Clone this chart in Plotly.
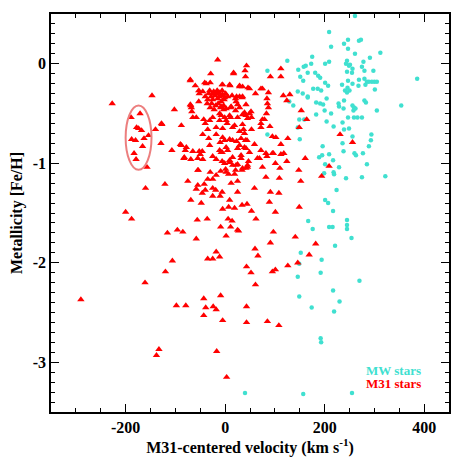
import plotly.graph_objects as go

# M31 stars (red triangles): velocity (km/s), [Fe/H]
m31_vel = [
    -227, -147, -102, -70, -15,
    -189, -171, -178, -174, -168, -188, -180, -163, -166, -183, -179, -154,
    -140, -127, -129, -157, -160, -121, -107, -88, -90, -82, -78, -200, -188, -116, -96, -85, -69,
    -29, 17, 41, -70, -38, -30, -6, 9, 29, 35, 46, -52, -45, -23, -18, -53, -36, -70, -67, 23,
    34, 25, 42, -3, 11, -11, -65, -58, -43, -31, -25, -11, -1, 11, 35, 45, -128, -40, -35, -18,
    4, 15, 29, 37, -45, -33, -18, -10, -1, 9, -11, -6, 5, 23, 29, 41, 42, -88, -80, -65, -52,
    -83, -55, -45, -25, -18, -6, 9, 25, 32, 45, -55, 15,
    -33, -28, -25, -20, -15, -12, -8, -5, -2, -27, -19, -14, -30, -22, -9, -16, -35, -40, -12,
    -24, -3, -31, -6, 1,
    -8, -1, 5, 14, 21, 29, 35, 22, -8, 2, 12, 21, 29, 39, 49, -8, 9, 25, 42, 2, 19, 35, -5,
    -5, 15, 32, 2, 25, 39, -8, 15, 32, -1, 9, 22, 35, 2, 19, 45,
    43, 40, 17, 112, 91, 112, -5, 10, 29, 49, 72, 75, 61, 87, 117, 130, 84, 124, 85, 153, 87,
    52, 83, 164, 75, 90, 72, 149, 53, 95, 102, 126, 231, 256, 59, 112, 82, 95, 69, 112, 161,
    101, 75, 110, 148, 209, 194, 82, 152, 109, 59, 91, 108, 89, 53, 101, 149, 62,
    -54, -30, -75, -55, -58, -42, -35, -25, -18, -9, 1, 7, 21, 34, 42, -40, -25, -19, -46, -6,
    -10, -25, 12, 25, 25, -69, -48, 9, 7, 19, 34, 44, -56, -36, 6, 14, -9, 11, 25, -58, 2,
    -18, -11, -35, -25, -106, -5,
    -41, -60, -53, -68, -31, -46, -50, -69,
    -120, -161, -290, -98, -79, -43, -9, -39, -24, -18, -43, -5, -133, -138, -17, 3,
    27, 97, 141, 91, 182, 60, 66, 169, 43, 52, 95, 101, 126, 146, 61, 43, 43, 85, 108,
    79, 72, 53, 39, 44, 49, 72, 84, 97, 118, 47, 65, 124,
]
m31_feh = [
    -0.40, -0.32, -0.46, -0.16, 0.04,
    -0.54, -0.50, -0.64, -0.65, -0.67, -0.76, -0.77, -0.75, -0.83, -0.90, -0.96, -0.72,
    -0.66, -0.61, -0.80, -1.04, -1.25, -1.21, -0.87, -0.62, -0.81, -0.94, -0.84, -1.49, -1.56, -1.70, -1.67, -1.69, -0.42,
    -0.10, -0.10, -0.13, -0.17, -0.20, -0.19, -0.21, -0.21, -0.23, -0.23, -0.24, -0.30, -0.28, -0.28, -0.30, -0.38, -0.40, -0.41, -0.48, -0.33,
    -0.34, -0.41, -0.41, -0.46, -0.44, -0.50, -0.54, -0.54, -0.56, -0.57, -0.54, -0.57, -0.54, -0.54, -0.51, -0.55, -0.60, -0.60, -0.66, -0.64,
    -0.60, -0.64, -0.68, -0.66, -0.71, -0.75, -0.71, -0.79, -0.77, -0.76, -0.87, -0.89, -0.87, -0.78, -0.82, -0.77, -0.85, -0.82, -0.87, -0.88, -0.88,
    -0.95, -0.95, -0.96, -0.93, -0.96, -0.98, -0.97, -1.01, -0.95, -1.04, -1.07, -1.02,
    -0.30, -0.33, -0.36, -0.32, -0.35, -0.29, -0.38, -0.31, -0.36, -0.40, -0.42, -0.40, -0.44, -0.46, -0.44, -0.27, -0.36, -0.33, -0.33,
    -0.30, -0.42, -0.27, -0.27, -0.30,
    -0.32, -0.34, -0.33, -0.32, -0.35, -0.33, -0.33, -0.38, -0.43, -0.45, -0.43, -0.47, -0.44, -0.49, -0.50, -0.52, -0.52, -0.54, -0.52, -0.57, -0.62, -0.61, -0.65,
    -0.74, -0.77, -0.75, -0.84, -0.85, -0.84, -0.89, -0.94, -0.92, -1.00, -0.99, -1.02, -1.05, -1.09, -1.11, -1.02,
    -0.02, -0.07, -0.09, -0.05, -0.13, -0.13, -0.21, -0.22, -0.22, -0.25, -0.25, -0.25, -0.30, -0.29, -0.32, -0.31, -0.35, -0.37, -0.40, -0.47, -0.44,
    -0.48, -0.50, -0.56, -0.56, -0.63, -0.64, -0.64, -0.66, -0.73, -0.74, -0.75, -0.71, -0.79, -0.81, -0.81, -0.90, -0.90, -0.95, -0.91, -0.95,
    -1.00, -1.04, -1.05, -1.07, -1.03, -1.13, -1.14, -1.18, -1.15, -1.25, -1.29, -1.30, -1.39, -1.48, -1.49, -1.44, -1.56,
    -1.07, -1.09, -1.18, -1.22, -1.26, -1.21, -1.16, -1.16, -1.12, -1.08, -1.06, -1.11, -1.07, -1.07, -1.05, -1.27, -1.25, -1.27, -1.30, -1.29,
    -1.33, -1.33, -1.20, -1.18, -1.29, -1.37, -1.40, -1.37, -1.44, -1.45, -1.42, -1.41, -1.57, -1.56, -1.56, -1.58, -1.64, -1.64, -1.67, -1.76, -1.73,
    -1.89, -1.94, -1.96, -1.96, -1.98, -1.46,
    -0.19, -0.22, -0.27, -0.44, -0.82, -0.88, -0.91, -0.96,
    -2.09, -2.20, -2.37, -2.43, -2.43, -2.36, -2.33, -2.45, -2.44, -2.47, -2.53, -2.58, -2.87, -2.93, -2.89, -3.15,
    -1.68, -1.69, -1.74, -1.80, -1.81, -1.86, -1.93, -1.92, -2.04, -2.10, -2.09, -2.07, -2.03, -2.00, -2.22, -2.44, -2.60, -2.59, -2.63,
    -0.56, -0.60, -0.54, -0.70, -0.77, -0.89, -0.87, -0.93, -0.90, -0.90, -0.98, -0.95, -0.98,
]

# MW stars (cyan)
mw_vel = [
    261, 209, 247, 239, 269, 273, 213, 247, 312, 261, 175, 291, 125, 245, 209, 201, 173, 278,
    162, 158, 243, 249, 256, 275, 147, 85, 166, 181, 245, 255, 298, 151, 187, 191, 280, 269,
    386, 157, 201, 207, 256, 247, 285, 289, 295, 300, 305, 268, 282, 177, 186, 146, 241, 246,
    166, 204, 239, 280, 283, 129, 137, 191, 197, 229, 256, 259, 262, 258, 354, 305, 200, 183,
    213, 247, 259, 266, 275, 159, 204, 218, 239, 249, 85, 150, 256, 294, 293, 236, 289, 196,
    238, 260, 263, 189, 195, 209, 277, 217, 201, 229, 285, 199, 218, 219, 243, 275, 322, 224,
    201, 207, 217, 167, 245, 245, 245, 176, 209, 216,
    254, 221, 152, 149, 194, 192, 146, 270, 217, 149, 230, 174, 219, 192, 193, 40, 157, 255,
    251, 280, 235, 301, 193, 156, 166, 183, 236, 146, 149, 238, 228, 250, 245,
]
mw_feh = [
    0.48, 0.32, 0.24, 0.20, 0.23, 0.24, 0.17, 0.15, 0.11, 0.10, 0.07, 0.06, 0.03, 0.03, 0.02, 0.00, 0.00, 0.02,
    -0.02, -0.03, 0.00, -0.02, -0.05, -0.03, -0.06, -0.07, -0.09, -0.09, -0.08, -0.09, -0.07, -0.13, -0.12, -0.14, -0.15, -0.16,
    -0.15, -0.17, -0.19, -0.22, -0.20, -0.17, -0.18, -0.18, -0.18, -0.18, -0.18, -0.22, -0.21, -0.25, -0.25, -0.28, -0.27, -0.24,
    -0.34, -0.35, -0.37, -0.37, -0.39, -0.38, -0.42, -0.40, -0.41, -0.43, -0.42, -0.44, -0.45, -0.47, -0.42, -0.47, -0.47, -0.51,
    -0.50, -0.54, -0.54, -0.54, -0.54, -0.56, -0.58, -0.63, -0.66, -0.65, -0.71, -0.76, -0.73, -0.71, -0.77, -0.80, -0.83, -0.83,
    -0.88, -0.90, -0.92, -0.94, -0.92, -0.91, -0.90, -0.97, -1.01, -1.04, -1.01, -1.10, -1.09, -1.11, -1.15, -1.14, -1.13, -1.27,
    -1.37, -1.40, -1.48, -1.58, -1.57, -1.62, -1.66, -1.66, -1.64, -1.64,
    -1.75, -1.83, -1.90, -2.01, -1.97, -2.10, -2.14, -2.18, -2.28, -2.34, -2.39, -2.45, -2.49, -2.76, -2.80, -3.31, -3.32, -3.31,
    -0.01, -0.07, -0.21, -0.26, -0.27, -0.30, -0.33, -0.39, -0.59, -0.64, -0.56, -0.45, -0.40, -0.27, -0.29,
]

x_tickvals = [-200, 0, 200, 400]
x_ticktext = ["-200", "0", "200", "400"]
y_tickvals = [0, -1, -2, -3]
y_ticktext = ["0", "-1", "-2", "-3"]

font_family = "Liberation Serif"

fig = go.Figure()

fig.add_trace(go.Scatter(x=mw_vel, y=mw_feh, mode='markers', showlegend=False,
                         marker=dict(symbol='circle', size=4.5, color='#40E0D0', line=dict(width=0))))
fig.add_trace(go.Scatter(x=m31_vel, y=m31_feh, mode='markers', showlegend=False,
                         marker=dict(symbol='triangle-up', size=6.5, color='#FF0000', line=dict(width=0))))

# ellipse around the cold group
fig.add_shape(type='circle', xref='x', yref='y', x0=-200, x1=-148, y0=-1.065, y1=-0.42,
              line=dict(color='#EC7F7F', width=2))

fig.add_annotation(x=396, y=-3.08, xref='x', yref='y', text='MW stars', showarrow=False, xanchor='right',
                   borderpad=0, font=dict(family=font_family, size=13, color='#40E0D0', weight='bold'))
fig.add_annotation(x=396, y=-3.21, xref='x', yref='y', text='M31 stars', showarrow=False, xanchor='right',
                   borderpad=0, font=dict(family=font_family, size=13, color='#FF0000', weight='bold'))

axis_style = dict(showline=True, linewidth=1.5, linecolor='black', mirror='allticks', ticks='inside',
                  ticklen=8, tickwidth=1.3, tickcolor='black', showgrid=False, zeroline=False, automargin=False,
                  tickfont=dict(family=font_family, size=16, color='black', weight='bold'))

fig.update_xaxes(range=[-350, 450], tickvals=x_tickvals, ticktext=x_ticktext,
                 minor=dict(dtick=50, tick0=0, ticks='inside', ticklen=4, tickwidth=1.2, tickcolor='black'),
                 title=dict(text='M31-centered velocity (km s<sup>-1</sup>)', standoff=4,
                            font=dict(family=font_family, size=16, color='black', weight='bold')),
                 **axis_style)
fig.update_yaxes(range=[-3.5, 0.5], tickvals=y_tickvals, ticktext=y_ticktext,
                 minor=dict(dtick=0.1, tick0=0, ticks='inside', ticklen=4, tickwidth=1.2, tickcolor='black'),
                 title=dict(text='Metallicity [Fe/H]', standoff=6,
                            font=dict(family=font_family, size=16, color='black', weight='bold')),
                 **axis_style)

# page body adds an 8px offset, so the figure is a bit smaller than the window
fig.update_layout(width=455, height=455, margin=dict(l=43, r=14, t=6, b=51),
                  plot_bgcolor='white', paper_bgcolor='white')

fig.write_html("out.html")
